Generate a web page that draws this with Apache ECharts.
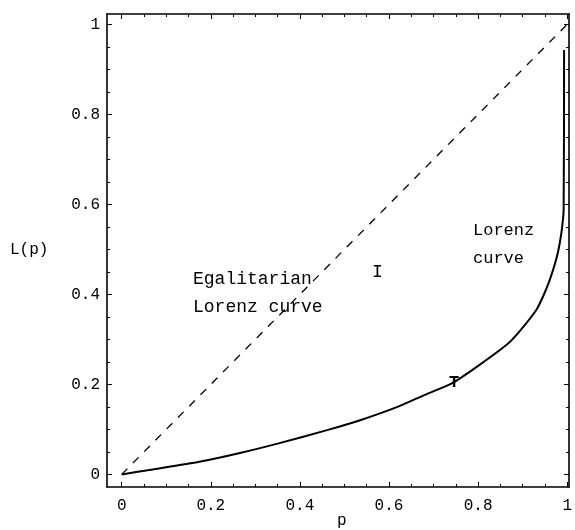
<!DOCTYPE html>
<html>
<head>
<meta charset="utf-8">
<script src="https://cdn.jsdelivr.net/npm/echarts@6/dist/echarts.min.js"></script>
<style>
html,body{margin:0;padding:0;background:#fff;}
#chart{width:575px;height:530px;}
</style>
</head>
<body>
<div id="chart"></div>
<script>
// ---- data ----
var lorenzP = [0, 0.062, 0.174, 0.263, 0.352, 0.463, 0.537, 0.619, 0.686, 0.742, 0.797, 0.864, 0.893, 0.931, 0.947, 0.960, 0.971, 0.980, 0.987, 0.992, 0.993];
var lorenzL = [0, 0.010, 0.028, 0.047, 0.069, 0.099, 0.121, 0.150, 0.179, 0.203, 0.239, 0.288, 0.318, 0.366, 0.398, 0.430, 0.463, 0.497, 0.537, 0.588, 0.943];
var egalP = [0, 1];
var egalL = [0, 1];
var majorTicks = [0, 0.2, 0.4, 0.6, 0.8, 1];
var tickLabels = ['0', '0.2', '0.4', '0.6', '0.8', '1'];
var annotations = ['Egalitarian', 'Lorenz curve', 'I', 'Lorenz', 'curve', 'T'];
var axisTitles = ['L(p)', 'p'];

var minorTicks = [];
for (var k = 1; k < 20; k++) { if (k % 4 !== 0) minorTicks.push(k * 0.05); }

var FONT = '"Liberation Mono", "DejaVu Sans Mono", monospace';
var xMin = -0.033, xMax = 1.004, yMin = -0.028, yMax = 1.023;

function lab(v) {
  for (var i = 0; i < majorTicks.length; i++) {
    if (Math.abs(majorTicks[i] - v) < 1e-9) return tickLabels[i];
  }
  return '';
}

function mkAxis(pos, ticks, len, showLine, showLabel, isY) {
  return {
    type: 'value', position: pos, min: isY ? yMin : xMin, max: isY ? yMax : xMax,
    axisLine: {show: showLine, onZero: false, lineStyle: {color: '#000', width: 1.6}},
    axisTick: {show: true, inside: true, length: len, customValues: ticks, lineStyle: {color: '#000', width: 1}},
    axisLabel: {show: showLabel, customValues: majorTicks, formatter: lab,
      fontFamily: FONT, fontSize: 16, color: '#000', margin: isY ? 7 : 11},
    splitLine: {show: false}
  };
}

var chart = echarts.init(document.getElementById('chart'), null, {renderer: 'canvas'});
chart.setOption({
  animation: false,
  backgroundColor: '#fff',
  grid: {left: 107, top: 14, right: 2, bottom: 43},
  xAxis: [
    mkAxis('bottom', majorTicks, 5, true, true, false),
    mkAxis('bottom', minorTicks, 3, false, false, false),
    mkAxis('top', majorTicks, 5, true, false, false),
    mkAxis('top', minorTicks, 3, false, false, false)
  ],
  yAxis: [
    mkAxis('left', majorTicks, 5, true, true, true),
    mkAxis('left', minorTicks, 3, false, false, true),
    mkAxis('right', majorTicks, 5, true, false, true),
    mkAxis('right', minorTicks, 3, false, false, true)
  ],
  series: [
    {
      type: 'line', xAxisIndex: 0, yAxisIndex: 0, symbol: 'none', smooth: 0.2,
      data: lorenzP.map(function (p, i) { return [p, lorenzL[i]]; }),
      lineStyle: {color: '#000', width: 2}
    },
    {
      type: 'line', xAxisIndex: 0, yAxisIndex: 0, symbol: 'none',
      data: egalP.map(function (p, i) { return [p, egalL[i]]; }),
      lineStyle: {color: '#000', width: 1.3, type: [8, 8]}
    }
  ],
  graphic: [
    {type: 'text', left: 193, top: 270, style: {text: annotations[0], font: '18px ' + FONT, fill: '#000'}},
    {type: 'text', left: 193, top: 298, style: {text: annotations[1], font: '18px ' + FONT, fill: '#000'}},
    {type: 'text', left: 372, top: 263, style: {text: annotations[2], font: '18px ' + FONT, fill: '#000'}},
    {type: 'text', left: 473, top: 222, style: {text: annotations[3], font: '17px ' + FONT, fill: '#000'}},
    {type: 'text', left: 473, top: 250, style: {text: annotations[4], font: '17px ' + FONT, fill: '#000'}},
    {type: 'text', left: 449, top: 374, style: {text: annotations[5], font: 'bold 17px ' + FONT, fill: '#000'}},
    {type: 'text', left: 10, top: 242, style: {text: axisTitles[0], font: '16px ' + FONT, fill: '#000'}},
    {type: 'text', left: 337, top: 513, style: {text: axisTitles[1], font: '16px ' + FONT, fill: '#000'}}
  ]
});
</script>
</body>
</html>
